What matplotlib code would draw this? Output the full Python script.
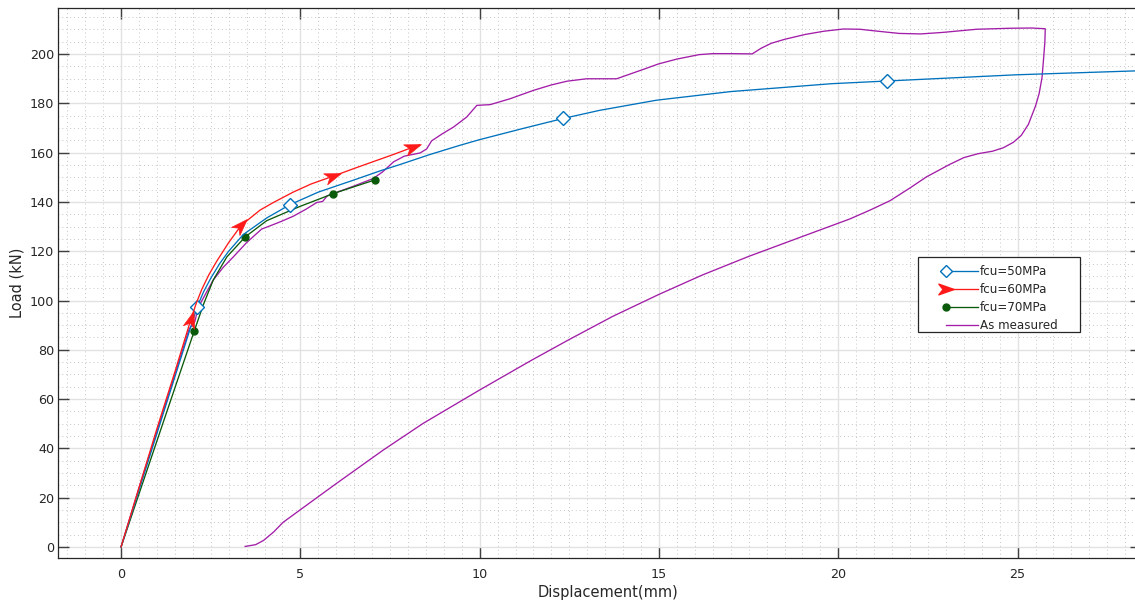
import numpy as np
import matplotlib
matplotlib.use("Agg")
import matplotlib.pyplot as plt
from matplotlib.path import Path
from matplotlib.markers import MarkerStyle
from matplotlib.transforms import Affine2D
from matplotlib.legend_handler import HandlerBase
from matplotlib.lines import Line2D
from matplotlib.patches import Rectangle
from matplotlib.ticker import MultipleLocator

# ---- load-displacement data (mm, kN) ----
fcu50_x = [0, 0.5, 1.0, 1.5, 2.12, 2.3, 2.5, 2.75, 3.0, 3.41, 4.06, 4.71, 5.5, 6.47, 7.22,
           7.78, 8.6, 9.45, 10.0, 11.2, 12.33, 13.35, 14.93, 17.0, 19.81, 21.37, 24.94, 28.5]
fcu50_y = [0, 23, 46, 69, 97.4, 103.5, 109, 115, 120, 126.8, 133.5, 138.9, 144, 148.8, 152.6,
           155.2, 159.2, 163, 165.3, 169.8, 173.9, 177.2, 181.3, 184.8, 188.0, 189.1, 191.6, 193.3]
fcu50_marks = [4, 11, 20, 25]

fcu60_x = [0, 0.5, 1.0, 1.5, 1.95, 2.1, 2.25, 2.45, 2.67, 3.0, 3.35, 3.875, 4.25, 4.8, 5.3,
           5.92, 6.5, 7.0, 7.6, 8.15, 8.32]
fcu60_y = [0, 24, 48, 71, 92.5, 99, 104.5, 110.5, 116, 123.5, 130.5, 136.7, 139.8, 144, 147.3,
           150.5, 153.6, 156.2, 159.3, 162.3, 163.1]
fcu60_marks = [4, 10, 15, 19]

fcu70_x = [0, 0.5, 1.0, 1.5, 2.04, 2.3, 2.57, 2.95, 3.46, 4.06, 4.99, 5.92, 6.5, 7.07]
fcu70_y = [0, 21.5, 43, 64.5, 87.6, 98.5, 108.3, 117.7, 125.8, 132.4, 138.2, 143.4, 146.2, 148.9]
fcu70_marks = [4, 8, 11, 13]

meas_load_x = [0, 0.5, 1.0, 1.5, 1.9, 2.06, 2.12, 2.2, 2.35, 2.57, 2.85, 3.13, 3.5, 3.92,
               4.1, 4.45, 4.8, 5.15, 5.46, 5.62, 5.75, 5.92, 6.5, 7.03, 7.3, 7.6, 7.9,
               8.34, 8.52, 8.66, 8.95, 9.27, 9.64, 9.92, 10.29, 10.85, 11.5, 12.0, 12.43,
               12.98, 13.82, 14.19, 14.6, 14.98, 15.5, 16.12, 16.5, 17.0, 17.6, 17.85,
               18.13, 18.5, 19.08, 19.6, 20.14, 20.6, 21.1, 21.7, 22.3, 22.9, 23.86,
               24.8, 25.4, 25.77]
meas_load_y = [0, 24, 47, 70, 88.5, 91.5, 95.5, 98.5, 102.5, 108.3, 113.5, 117.7, 123.5,
               129.0, 130.0, 132.0, 134.2, 137.0, 139.8, 140.2, 142.5, 143.4, 146.5, 149.5,
               152.3, 156.3, 158.6, 159.9, 161.5, 164.8, 167.6, 170.4, 174.5, 179.2, 179.5,
               181.9, 185.3, 187.5, 189.0, 190.0, 190.0, 191.9, 194.0, 196.0, 198.0, 199.8,
               200.2, 200.2, 200.1, 202.4, 204.4, 206.0, 208.0, 209.3, 210.2, 210.1, 209.3,
               208.4, 208.2, 208.8, 210.1, 210.5, 210.6, 210.3]
meas_unload_x = [25.76, 25.72, 25.68, 25.6, 25.5, 25.3, 25.1, 24.88, 24.6, 24.3, 23.9,
                 23.5, 23.1, 22.46, 22.0, 21.44, 20.9, 20.32, 19.0, 17.5, 16.2, 15.0,
                 13.7, 12.5, 11.45, 10.0, 8.43, 7.31, 6.01, 4.99, 4.52, 4.25, 3.97, 3.75, 3.46]
meas_unload_y = [205, 197.5, 190.5, 184, 179, 171.5, 167, 164.2, 162, 160.6, 159.6,
                 158, 155.2, 150.2, 145.7, 140.5, 136.8, 133.1, 126, 117.9, 110.3, 102.5,
                 93.5, 84.2, 75.8, 63.7, 50.2, 39.3, 25.8, 15, 10.0, 6.0, 2.6, 0.9, 0.2]

labels = ["fcu=50MPa", "fcu=60MPa", "fcu=70MPa", "As measured"]
x_ticks = [0, 5, 10, 15, 20, 25]
y_ticks = list(range(0, 201, 20))

C_BLUE = "#0072BD"
C_RED = "#FF1A1A"
C_GREEN = "#0B5A0B"
C_PURPLE = "#A21DA8"
C_TEXT = "#262626"

W, H = 1135, 606
fig = plt.figure(figsize=(W / 100, H / 100), dpi=100)
ax = fig.add_axes([58.3 / W, 1 - 558 / H, (1141 - 58.3) / W, (558 - 8.3) / H])
ax.set_xlim(-1.75, 28.44)
ax.set_ylim(-4.5, 218.6)

# grids
ax.set_axisbelow(True)
ax.xaxis.set_minor_locator(MultipleLocator(0.5))
ax.yaxis.set_minor_locator(MultipleLocator(5))
ax.grid(which="major", color="#e2e2e2", lw=1.0, ls="-")
ax.grid(which="minor", color="#c6c6c6", lw=0.7, ls=(0, (1, 3)))

# curves
meas_x = meas_load_x + meas_unload_x
meas_y = meas_load_y + meas_unload_y
ax.plot(meas_x, meas_y, color=C_PURPLE, lw=0.95, zorder=2)
ax.plot(fcu70_x, fcu70_y, color=C_GREEN, lw=0.95, marker="o", ms=5,
        mfc=C_GREEN, mec=C_GREEN, markevery=fcu70_marks, zorder=3)
ax.plot(fcu50_x, fcu50_y, color=C_BLUE, lw=0.95, marker="D", ms=7.5, mfc="white",
        mec=C_BLUE, mew=1.0, markevery=fcu50_marks, zorder=3)
ax.plot(fcu60_x, fcu60_y, color=C_RED, lw=0.95, zorder=3)

# dart-shaped markers on the 60 MPa curve, aligned with the local slope
dart = Path([(1, 0), (-1, 0.7), (-0.45, 0), (-1, -0.7), (1, 0)],
            [Path.MOVETO, Path.LINETO, Path.LINETO, Path.LINETO, Path.CLOSEPOLY])


def dart_marker(angle):
    return MarkerStyle(dart, transform=Affine2D().rotate_deg(angle))


n60 = len(fcu60_x)
for i in fcu60_marks:
    a, b = max(i - 1, 0), min(i + 1, n60 - 1)
    p0 = ax.transData.transform((fcu60_x[a], fcu60_y[a]))
    p1 = ax.transData.transform((fcu60_x[b], fcu60_y[b]))
    ang = np.degrees(np.arctan2(p1[1] - p0[1], p1[0] - p0[0]))
    ax.plot([fcu60_x[i]], [fcu60_y[i]], ls="none", marker=dart_marker(ang), ms=12,
            mfc=C_RED, mec=C_RED, mew=0.5, zorder=4)

# axes styling
ax.set_xticks(x_ticks)
ax.set_yticks(y_ticks)
ax.tick_params(which="major", direction="in", length=8, width=1.0, top=True, right=True,
               color="#404040", labelsize=9.2, labelcolor=C_TEXT)
ax.tick_params(which="minor", length=0)
ax.tick_params(axis="y", pad=3)
ax.tick_params(axis="x", pad=7)
for s in ax.spines.values():
    s.set_color(C_TEXT)
    s.set_linewidth(0.9)

ax.set_xlabel("Displacement(mm)", fontsize=10.5, color=C_TEXT)
ax.xaxis.set_label_coords(0.5075, -0.050)
ax.set_ylabel("Load (kN)", fontsize=10.5, color=C_TEXT)
ax.yaxis.set_label_coords(-0.031, 0.5)


# legend: marker drawn at the start of each sample line
class LeadMarkerHandler(HandlerBase):
    def __init__(self, frac=0.40, **kw):
        super().__init__(**kw)
        self.frac = frac

    def create_artists(self, legend, orig_handle, xdescent, ydescent, width, height,
                       fontsize, trans):
        x0 = -xdescent + self.frac * width
        x1 = -xdescent + width
        yc = (height - ydescent) / 2
        line = Line2D([x0, x1], [yc, yc])
        self.update_prop(line, orig_handle, legend)
        line.set_marker("None")
        mark = Line2D([x0], [yc])
        self.update_prop(mark, orig_handle, legend)
        mark.set_linestyle("None")
        line.set_transform(trans)
        mark.set_transform(trans)
        return [line, mark]


handles = [
    Line2D([], [], color=C_BLUE, lw=0.95, marker="D", ms=6.5, mfc="white", mec=C_BLUE),
    Line2D([], [], color=C_RED, lw=0.95, marker=dart_marker(0), ms=11, mfc=C_RED, mec=C_RED),
    Line2D([], [], color=C_GREEN, lw=0.95, marker="o", ms=5, mfc=C_GREEN, mec=C_GREEN),
    Line2D([], [], color=C_PURPLE, lw=0.95),
]
fig.add_artist(Rectangle((918.3 / W, 1 - 332.3 / H), 161.7 / W, 75.6 / H,
                         transform=fig.transFigure, fc="white", ec=C_TEXT, lw=0.9, zorder=4))
leg = fig.legend(handles, labels, loc="upper left", bbox_to_anchor=(919 / W, 1 - 259 / H),
                 bbox_transform=fig.transFigure, frameon=False, borderpad=0,
                 handlelength=4.4, handletextpad=0.2, labelspacing=0.42, fontsize=8.6,
                 handler_map={Line2D: LeadMarkerHandler()})
for t in leg.get_texts():
    t.set_color(C_TEXT)
leg.set_zorder(5)

fig.savefig("out.png", dpi=100, facecolor="white")
